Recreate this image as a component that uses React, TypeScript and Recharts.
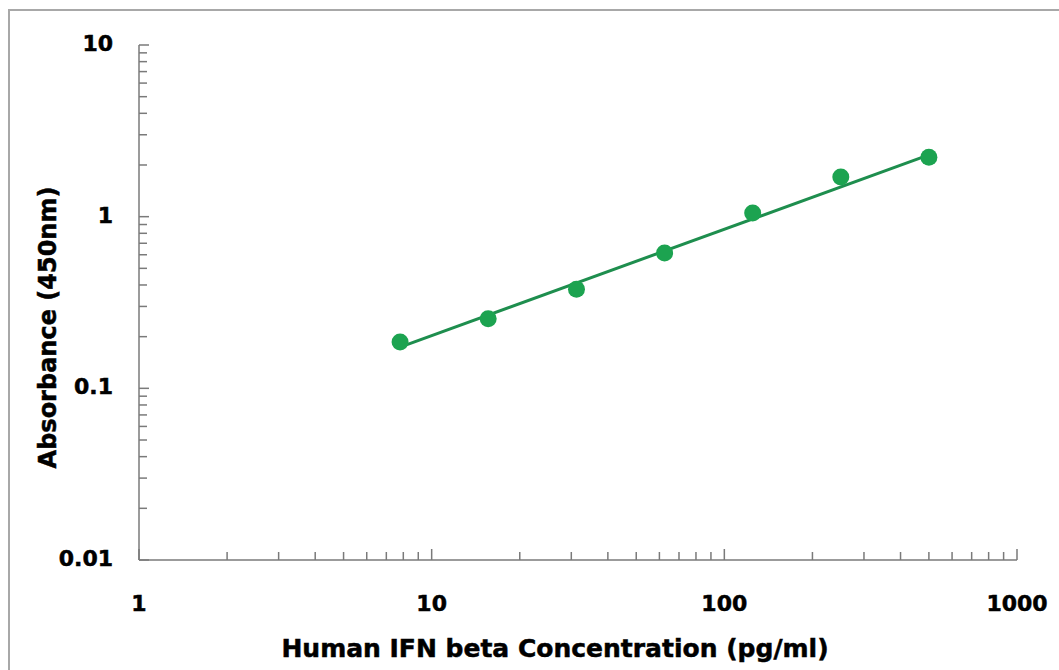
import React from 'react';
import { ScatterChart, Scatter, XAxis, YAxis, Label } from 'recharts';

// standard curve points (concentration pg/ml, OD 450nm)
const concentrations = [7.8, 15.6, 31.25, 62.5, 125, 250, 500];
const absorbances = [0.186, 0.254, 0.378, 0.614, 1.05, 1.7, 2.22];

// fitted line end points
const fitConcentrations = [7.8, 500];
const fitAbsorbances = [0.174, 2.29];

const xTicks = [1, 2, 3, 4, 5, 6, 7, 8, 9, 10, 20, 30, 40, 50, 60, 70, 80, 90, 100, 200, 300, 400, 500, 600, 700, 800, 900, 1000];
const xMajor = [1, 10, 100, 1000];
const yTicks = [0.01, 0.02, 0.03, 0.04, 0.05, 0.06, 0.07, 0.08, 0.09, 0.1, 0.2, 0.3, 0.4, 0.5, 0.6, 0.7, 0.8, 0.9, 1, 2, 3, 4, 5, 6, 7, 8, 9, 10];
const yMajor = [0.01, 0.1, 1, 10];

const points = concentrations.map((x, i) => ({ x, y: absorbances[i] }));
const fit = fitConcentrations.map((x, i) => ({ x, y: fitAbsorbances[i] }));

const axisColor = '#7a7a7a';
const font = '"DejaVu Sans", Arial, sans-serif';
const textStyle = { fontFamily: font, fontWeight: 'bold' as const, fill: '#000', stroke: '#000', strokeWidth: 0.5 };

const XTick = (props: any) => {
  const { x, y, payload } = props;
  const major = xMajor.includes(payload.value);
  return (
    <g>
      <line x1={x} y1={y} x2={x} y2={y - (major ? 11 : 8)} stroke={axisColor} strokeWidth={1.5} />
      {major && (
        <text x={x} y={y + 51} textAnchor="middle" fontSize={22} {...textStyle}>
          {payload.value}
        </text>
      )}
    </g>
  );
};

const YTick = (props: any) => {
  const { x, y, payload } = props;
  const major = yMajor.includes(payload.value);
  return (
    <g>
      <line x1={x} y1={y} x2={x + (major ? 10 : 8)} y2={y} stroke={axisColor} strokeWidth={1.5} />
      {major && (
        <text x={x - 26} y={y + 6} textAnchor="end" fontSize={22} {...textStyle}>
          {String(payload.value)}
        </text>
      )}
    </g>
  );
};

export default function App() {
  return (
    <div style={{ position: 'fixed', left: 0, top: 0, width: 1059, height: 670, overflow: 'hidden', background: '#fff' }}>
      <div style={{ position: 'absolute', left: 8, top: 9, width: 2000, height: 2000, border: '2px solid #a8a8a8' }} />
      <div style={{ position: 'absolute', left: 0, top: 0 }}>
        <ScatterChart width={1059} height={670} margin={{ top: 45, right: 42, bottom: 50, left: 79 }}>
          <XAxis
            dataKey="x"
            type="number"
            scale="log"
            domain={[1, 1000]}
            allowDataOverflow
            ticks={xTicks}
            interval={0}
            tick={<XTick />}
            tickLine={false}
            tickSize={0}
            tickMargin={0}
            height={60}
            stroke={axisColor}
            strokeWidth={1.5}
          >
            <Label
              content={(p: any) => {
                const vb = p.viewBox;
                return (
                  <text x={vb.x + vb.width / 2 - 23} y={vb.y + 97} textAnchor="middle" fontSize={25} {...textStyle}>
                    Human IFN beta Concentration (pg/ml)
                  </text>
                );
              }}
            />
          </XAxis>
          <YAxis
            dataKey="y"
            type="number"
            scale="log"
            domain={[0.01, 10]}
            allowDataOverflow
            ticks={yTicks}
            interval={0}
            tick={<YTick />}
            tickLine={false}
            tickSize={0}
            tickMargin={0}
            width={60}
            stroke={axisColor}
            strokeWidth={1.5}
          >
            <Label
              content={(p: any) => {
                const vb = p.viewBox;
                const cx = vb.x + vb.width - 83;
                const cy = vb.y + vb.height / 2 + 25;
                return (
                  <text x={cx} y={cy} transform={`rotate(-90, ${cx}, ${cy})`} textAnchor="middle" fontSize={24} {...textStyle}>
                    Absorbance (450nm)
                  </text>
                );
              }}
            />
          </YAxis>
          <Scatter
            data={fit}
            line={{ stroke: '#1e8e4e', strokeWidth: 3 }}
            shape={() => <g />}
            isAnimationActive={false}
            legendType="none"
          />
          <Scatter
            data={points}
            fill="#1ca350"
            shape={(p: any) => <circle cx={p.cx} cy={p.cy} r={8.5} fill="#1ca350" />}
            isAnimationActive={false}
            legendType="none"
          />
        </ScatterChart>
      </div>
    </div>
  );
}
